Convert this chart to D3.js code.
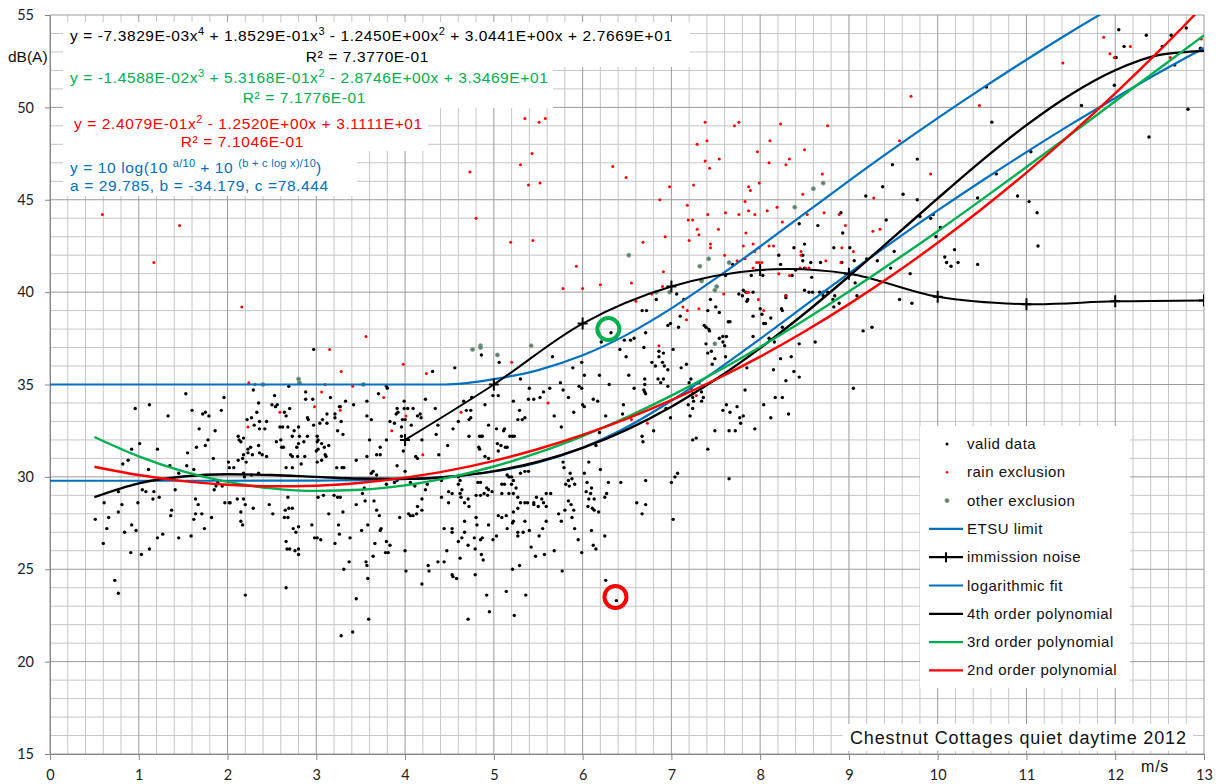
<!DOCTYPE html>
<html>
<head>
<meta charset="utf-8">
<script src="https://cdn.jsdelivr.net/npm/d3@7"></script>
<style>
  body { margin: 0; background: #fff; }
  svg { display: block; }
  .tick text { font-family: Lato, "Liberation Sans", sans-serif; font-size: 14.5px; fill: #222; }
  .lbl { font-family: "Liberation Sans", Arial, sans-serif; fill: #111; }
</style>
</head>
<body>
<div id="chart"></div>
<script>
// ---- data ----
var xTicks = [0, 1, 2, 3, 4, 5, 6, 7, 8, 9, 10, 11, 12, 13];
var yTicks = [15, 20, 25, 30, 35, 40, 45, 50, 55];

var validData = [
  [2.97,36.9],[1.53,34.5],[1.96,34.3],[0.96,33.7],[1.12,33.9],[1.33,33.3],[1.60,33.6],[1.72,33.4],[1.75,33.5],[1.79,33.3],
  [1.93,33.6],[1.68,32.6],[1.86,32.5],[1.78,32.0],[1.75,31.7],[1.65,31.6],[1.55,31.3],[1.01,31.8],[0.92,31.5],[0.88,30.9],
  [0.82,30.7],[1.21,31.5],[1.11,30.4],[1.35,30.6],[1.54,30.6],[1.62,30.4],[1.84,31.0],[1.45,30.2],[1.41,29.3],[1.17,29.2],
  [1.16,28.8],[1.23,28.9],[1.04,29.3],[1.08,29.2],[0.77,29.2],[0.61,28.6],[0.81,28.5],[0.99,28.6],[0.77,28.1],[0.66,27.8],
  [0.51,27.7],[0.64,27.2],[0.84,27.0],[0.92,27.4],[0.97,27.1],[0.91,25.9],[1.03,25.8],[1.12,26.1],[1.21,26.7],[1.27,26.9],
  [0.60,26.4],[0.73,24.4],[0.77,23.7],[1.37,28.2],[1.36,27.9],[1.45,26.7],[1.59,26.8],[1.64,28.8],[1.67,28.5],[1.64,28.0],
  [1.71,28.0],[1.62,27.7],[1.74,27.2],[1.82,27.8],[1.87,29.5],[1.89,29.7],[1.85,29.3],[1.94,29.5],[1.97,28.6],[2.02,28.6],
  [2.03,28.6],[2.01,30.8],[2.02,30.5],[2.07,30.5],[2.12,30.9],[2.17,31.0],[2.21,30.8],[2.18,31.2],[2.23,31.3],[2.12,32.2],
  [2.13,32.0],[2.15,31.9],[2.18,32.1],[2.22,33.1],[2.27,33.2],[2.23,31.5],[2.26,31.6],[2.35,31.7],[2.36,32.6],[2.30,32.8],
  [2.36,33.0],[2.33,33.5],[2.35,34.0],[2.29,34.7],[2.44,33.0],[2.42,32.6],[2.36,31.3],[2.39,31.2],[2.44,31.1],[2.28,31.2],
  [2.18,30.2],[2.19,30.0],[2.27,30.1],[2.11,28.8],[2.18,28.8],[2.20,28.5],[2.29,28.3],[2.15,28.1],[2.15,27.6],[2.17,27.4],
  [2.47,28.5],[2.51,28.0],[2.20,23.6],[2.35,30.2],[2.53,34.4],[2.50,33.9],[2.54,33.8],[2.56,33.9],[2.69,34.9],[2.70,33.7],
  [2.64,33.5],[2.66,33.3],[2.59,32.7],[2.62,32.7],[2.68,32.7],[2.55,31.9],[2.60,32.0],[2.61,31.6],[2.63,31.6],[2.75,32.5],
  [2.73,32.2],[2.71,31.2],[2.73,31.1],[2.66,30.5],[2.73,30.5],[2.83,30.7],[2.79,31.1],[2.78,31.6],[2.80,31.8],[2.81,32.2],
  [2.80,32.7],[2.86,31.9],[2.87,31.1],[2.90,32.2],[2.90,33.2],[2.91,33.1],[2.88,34.2],[2.88,34.6],[2.96,34.2],[2.97,32.8],
  [3.01,32.2],[3.02,32.0],[3.01,31.9],[3.06,31.8],[3.09,31.6],[3.00,31.4],[3.02,31.5],[3.11,31.1],[3.10,31.2],[3.06,30.9],
  [3.01,30.8],[3.04,32.9],[3.07,33.1],[3.12,33.4],[3.12,32.9],[3.16,34.3],[3.21,33.4],[3.21,33.2],[3.26,33.8],[3.27,33.8],
  [3.28,33.0],[3.24,32.5],[3.30,32.3],[3.33,34.1],[3.14,31.7],[3.23,30.5],[3.29,30.5],[3.31,30.5],[2.68,28.9],[2.69,28.3],
  [2.73,28.3],[2.65,28.2],[2.64,27.8],[2.68,27.8],[2.74,27.2],[2.80,27.3],[2.77,27.0],[2.66,26.5],[2.67,26.1],[2.70,26.1],
  [2.76,26.0],[2.80,26.1],[2.80,25.8],[2.66,24.0],[2.95,27.4],[2.98,26.7],[3.01,26.7],[3.05,26.6],[3.02,28.9],[3.08,29.0],
  [3.14,28.0],[3.20,29.0],[3.24,28.9],[3.27,28.9],[3.30,28.1],[3.26,26.9],[3.25,27.4],[3.21,26.4],[3.38,26.7],[3.37,25.4],
  [3.31,25.0],[3.28,21.4],
  [4.31,35.7],[4.56,35.9],[4.86,36.6],[5.06,36.2],[5.66,36.5],[5.99,36.2],[5.89,35.9],[6.02,35.5],[6.19,35.5],[6.32,37.8],
  [6.21,37.3],[3.79,34.9],[3.80,34.8],[3.70,34.5],[3.57,34.1],[3.42,33.9],[3.57,33.3],[3.62,33.1],[3.45,30.9],[3.99,34.1],
  [3.91,33.7],[3.99,33.7],[4.03,33.7],[4.09,33.7],[3.92,33.5],[3.97,33.1],[4.00,33.1],[3.96,32.7],[3.83,33.0],[3.88,32.9],
  [3.90,33.4],[4.14,33.3],[4.17,33.4],[4.18,33.2],[4.07,32.8],[4.23,34.2],[4.34,33.7],[4.37,32.8],[3.79,32.0],[3.96,32.2],
  [3.60,32.0],[3.72,31.6],[3.68,31.2],[3.72,31.2],[3.57,31.1],[3.91,30.6],[4.12,31.1],[4.14,31.0],[4.19,32.0],[3.98,31.4],
  [4.38,31.2],[4.35,32.3],[4.48,31.7],[4.54,32.6],[4.60,33.0],[4.72,32.2],[4.72,33.1],[4.74,33.2],[4.69,33.6],[4.74,33.6],
  [4.66,34.1],[4.84,32.2],[4.86,32.2],[4.87,32.2],[4.83,31.6],[4.84,31.5],[4.94,32.8],[4.90,31.1],[4.94,31.0],[5.03,32.6],
  [5.12,32.6],[5.11,32.5],[4.90,33.9],[4.75,34.3],[4.99,34.4],[5.05,34.4],[5.04,31.8],[5.08,31.7],[5.13,31.6],[5.05,31.4],
  [5.15,31.6],[5.18,32.2],[5.21,32.2],[5.23,32.2],[5.22,34.1],[5.30,35.3],[5.40,34.8],[5.39,34.2],[5.45,34.2],[5.29,33.6],
  [5.35,33.2],[5.27,33.1],[5.32,33.1],[5.52,34.3],[5.56,34.6],[5.63,34.8],[5.75,35.1],[5.78,34.7],[5.84,34.3],[5.96,34.9],
  [5.99,34.8],[5.90,33.5],[6.00,33.9],[6.02,33.8],[5.76,32.7],[5.68,33.3],[6.12,34.2],[6.17,34.1],[6.26,33.3],[6.30,35.0],
  [6.19,32.4],[6.15,31.7],[6.07,30.8],[6.20,30.4],[6.29,29.7],[6.27,29.1],[6.13,28.2],[5.88,29.9],[5.86,30.2],[5.84,29.8],
  [5.81,29.6],[5.91,29.6],[5.78,30.8],[5.79,30.5],[6.05,29.7],[6.10,29.4],[6.09,29.1],[6.07,28.8],[6.06,28.4],[6.11,28.3],
  [6.18,28.1],[6.10,27.1],[5.87,28.5],[5.90,28.2],[5.80,28.2],[5.88,27.8],[5.73,28.0],[5.76,27.6],[5.91,27.2],[5.95,26.6],
  [5.99,25.9],[6.12,26.3],[6.15,26.1],[6.25,26.8],[6.26,24.4],[6.38,23.3],[5.77,24.9],[5.68,26.0],[5.57,25.8],[5.47,25.7],
  [5.42,26.2],[5.40,27.1],[5.51,26.8],[5.55,27.2],[5.59,27.6],[5.50,28.4],[5.59,28.4],[5.56,28.6],[5.54,28.8],[5.64,29.1],
  [5.59,29.1],[5.48,28.9],[5.45,28.6],[5.45,28.5],[5.35,28.6],[5.30,28.6],[5.38,28.6],[5.27,28.9],[5.22,29.1],[5.17,29.1],
  [5.25,29.4],[5.20,29.6],[5.09,29.6],[5.12,29.6],[5.09,29.1],[5.15,30.1],[5.17,30.0],[5.20,30.0],[5.22,29.8],[5.30,30.2],
  [5.35,30.3],[5.39,30.3],[5.27,28.3],[5.22,28.1],[5.14,27.9],[5.09,27.8],[5.05,27.9],[5.21,27.5],[5.27,27.0],[5.33,27.0],
  [5.35,27.6],[5.27,26.8],[5.22,27.6],[5.15,27.2],[5.03,26.8],[4.99,26.6],[4.87,26.7],[4.85,26.6],[4.78,26.7],[4.80,27.8],
  [4.81,27.4],[4.94,27.4],[4.93,29.0],[4.98,29.2],[4.89,29.1],[4.85,29.0],[4.80,29.0],[4.94,29.3],[4.92,29.4],[4.85,29.7],
  [4.82,29.7],[4.71,28.8],[4.67,28.6],[4.72,28.4],[4.64,29.3],[4.63,28.9],[4.62,29.1],[4.53,29.1],[4.49,29.2],[4.60,29.6],
  [4.62,29.8],[4.60,30.0],[4.49,28.6],[4.41,28.9],[4.44,27.2],[4.53,27.2],[4.53,27.0],[4.60,26.5],[4.67,27.6],[4.67,27.0],
  [4.62,25.6],[4.64,26.7],[4.71,26.3],[4.79,26.1],[4.86,25.8],[4.88,25.5],[4.79,24.7],[4.53,24.7],[4.54,24.6],[4.58,24.5],
  [4.47,26.0],[4.44,25.4],[4.37,25.4],[4.26,25.2],[4.27,24.9],[4.19,24.2],[4.01,24.9],[4.00,26.0],[3.79,26.5],[3.78,25.9],
  [3.81,25.9],[3.83,26.3],[3.73,27.2],[3.72,27.1],[3.64,25.7],[3.57,25.2],[3.56,25.4],[3.58,24.5],[3.45,23.4],[3.59,22.3],
  [3.41,21.6],[3.51,27.1],[3.58,27.4],[3.66,26.4],[3.45,28.5],[3.55,28.7],[3.52,29.1],[3.65,28.7],[3.68,28.2],[3.71,27.9],
  [3.54,29.4],[3.62,30.2],[3.64,30.3],[3.68,30.1],[3.79,29.6],[3.88,29.7],[3.91,29.8],[3.94,27.8],[4.04,28.0],[4.06,27.9],
  [4.09,27.9],[4.13,28.0],[4.19,28.2],[4.14,28.4],[4.23,29.3],[4.25,29.6],[4.11,29.5],[4.06,29.7],[4.00,30.3],[4.41,29.8],
  [4.19,28.8],[4.71,22.3],[4.95,22.7],[4.92,23.6],[5.23,22.5],[5.14,23.8],[5.36,23.6],[5.21,25.0],[5.29,25.2],[6.02,30.2],
  [5.85,29.5],[6.04,29.2],[6.25,28.9],[6.13,28.8],[5.84,28.7],
  [8.44,43.7],[8.65,43.6],[8.91,44.3],[8.93,43.2],[8.83,42.4],[9.01,42.4],[8.50,42.6],[8.38,42.4],[8.21,42.0],[8.48,42.0],
  [8.48,41.7],[8.23,41.5],[8.57,41.6],[8.68,41.6],[8.92,41.6],[9.06,41.7],[9.20,41.8],[9.32,41.7],[7.69,41.5],[7.90,40.9],
  [8.03,40.9],[8.36,40.9],[8.58,40.8],[8.40,41.2],[8.50,41.3],[8.50,40.1],[8.55,40.0],[8.59,40.0],[8.67,40.0],[8.71,40.0],
  [8.71,39.8],[8.76,40.0],[8.84,39.8],[8.82,39.6],[8.83,39.2],[8.89,39.4],[9.07,40.5],[9.09,39.8],[9.16,37.9],[9.26,38.1],
  [8.62,37.3],[8.44,37.2],[8.29,39.8],[8.29,39.7],[8.24,39.1],[8.25,39.0],[8.12,38.6],[8.02,38.8],[8.06,38.3],[7.92,38.7],
  [8.00,39.1],[7.86,39.6],[7.85,39.5],[7.81,40.1],[7.84,40.0],[7.92,40.0],[7.76,39.9],[7.80,39.8],[7.61,40.9],[7.44,39.6],
  [7.50,39.2],[7.54,38.9],[7.41,39.0],[7.37,38.2],[7.39,38.1],[7.42,38.0],[7.43,37.9],[7.54,37.5],[7.58,37.6],[7.62,37.6],
  [7.64,38.4],[7.66,38.4],[7.39,37.2],[7.41,36.7],[7.45,36.8],[7.58,37.3],[7.60,37.1],[7.61,36.5],[7.46,36.1],[7.49,36.4],
  [7.92,37.6],[8.04,38.3],[8.10,37.5],[8.16,37.3],[8.25,38.1],[8.23,36.4],[8.15,35.8],[8.38,35.7],[8.44,35.4],[8.35,36.5],
  [7.85,35.9],[8.29,35.2],[8.17,34.3],[8.25,34.3],[8.04,33.9],[8.12,33.2],[8.32,33.4],[9.05,34.8],[7.83,34.7],[7.62,33.9],
  [7.58,33.6],[7.66,33.5],[7.74,33.8],[7.77,33.2],[7.81,33.3],[7.78,32.9],[7.49,32.5],[7.65,32.5],[7.72,32.5],[7.94,32.6],
  [7.41,31.5],[7.24,32.0],[7.28,32.1],[7.21,33.3],[7.25,34.1],[7.24,33.7],[7.19,33.9],[7.24,34.3],[7.24,34.5],[7.34,34.1],
  [7.36,34.3],[7.34,34.6],[7.31,35.1],[7.20,35.1],[7.22,35.3],[7.22,34.8],[6.99,33.2],[6.94,33.7],[7.11,35.9],[7.17,36.1],
  [7.02,36.9],[6.86,36.8],[6.91,36.7],[6.86,36.5],[6.90,36.2],[6.92,36.0],[6.96,35.8],[6.78,36.2],[6.82,36.0],[6.85,35.3],
  [6.91,35.3],[6.88,35.1],[6.96,34.9],[6.70,35.3],[6.70,35.0],[6.69,34.7],[6.70,34.6],[6.71,34.5],[6.58,34.8],[6.52,35.5],
  [6.69,37.0],[6.49,36.5],[6.42,36.9],[6.47,37.4],[6.54,37.4],[6.58,37.5],[6.71,37.8],[6.67,39.0],[6.72,39.0],[6.96,38.2],
  [6.99,38.3],[7.08,38.1],[7.14,39.6],[7.10,38.7],[6.83,39.6],[7.06,39.9],[6.45,33.4],[6.46,33.9],[6.67,32.2],[6.68,31.9],
  [6.80,32.5],[6.43,29.7],[6.71,29.8],[7.00,29.7],[7.04,30.0],[7.07,30.2],[6.61,28.6],[6.71,28.5],[6.67,28.0],[7.02,27.7],
  [7.65,29.9],
  [12.04,54.2],[12.10,53.3],[12.35,53.9],[12.63,53.9],[12.80,54.3],[12.53,53.3],[12.96,53.2],[12.01,52.7],[12.67,52.3],[11.99,51.2],
  [11.62,50.1],[12.82,49.9],[12.38,48.4],[10.55,51.1],[10.61,49.2],[11.05,47.6],[10.66,46.4],[9.49,46.9],[9.77,47.2],[9.61,45.3],
  [9.77,45.0],[9.42,43.9],[9.80,44.1],[9.92,44.0],[9.95,44.2],[10.03,43.5],[9.98,43.0],[9.51,42.2],[9.47,41.3],[9.69,41.0],
  [10.08,41.9],[10.10,41.6],[10.15,41.4],[10.19,42.3],[10.23,41.6],[10.45,41.5],[10.45,45.1],[10.90,45.2],[11.03,44.9],[11.12,44.3],
  [11.13,42.5],[9.57,39.6],[9.71,39.4],[9.38,45.7],[9.19,45.2]
];

var rainData = [
  [3.15,36.9],[3.28,35.7],[2.24,35.1],[2.31,35.0],[3.10,35.0],[3.06,34.6],[2.98,33.8],[3.27,33.6],[2.59,33.5],[2.23,32.7],
  [0.59,44.2],[1.46,43.6],[1.17,41.6],[2.16,39.2],
  [3.41,34.9],[3.56,37.6],[3.76,34.3],[3.98,36.1],[4.24,35.6],[4.01,33.3],[3.85,32.5],[4.20,31.2],[4.63,33.5],[5.20,36.2],[5.61,34.0],
  [7.18,44.7],[7.19,43.9],[7.24,43.9],[7.41,44.2],[7.61,44.3],[7.76,44.2],[7.83,44.9],[7.87,44.4],[7.94,44.2],[8.08,44.4],
  [8.19,44.6],[8.25,43.8],[8.53,44.2],[8.72,44.3],[8.89,44.2],[8.96,43.6],[6.93,43.0],[6.68,42.7],[7.20,42.8],[7.29,43.4],
  [7.31,43.1],[7.53,43.4],[7.84,43.2],[7.44,42.6],[7.44,42.4],[7.60,42.0],[7.81,42.5],[7.92,42.6],[7.94,42.2],[7.99,42.4],
  [8.10,42.5],[8.15,42.5],[7.74,41.7],[7.83,41.8],[7.96,41.6],[7.99,41.6],[8.02,41.6],[7.92,41.3],[8.46,42.2],[8.46,42.0],
  [8.45,41.3],[8.51,41.3],[8.55,41.3],[8.21,41.0],[8.33,40.9],[8.74,41.7],[8.91,41.6],[8.92,42.4],[9.05,42.2],[9.27,43.3],
  [9.35,43.4],[6.91,41.1],[6.55,40.5],[6.60,39.5],[6.90,40.3],[6.78,39.9],[7.13,39.2],[7.18,39.0],[7.17,38.5],[7.31,39.1],
  [7.59,39.9],[7.85,40.0],[7.87,40.0],[7.98,39.6],[8.04,39.0],[8.29,39.8],[6.86,37.1],[6.55,33.1],[6.73,32.9],[7.28,34.4],
  [5.35,49.4],[5.51,49.2],[5.58,49.4],[5.43,47.5],[5.30,46.9],[5.39,45.8],[5.52,45.9],[4.73,46.5],[4.80,44.0],[5.19,42.7],
  [5.44,42.8],[6.34,46.8],[5.93,41.4],[5.78,40.2],[6.00,40.2],[6.20,40.4],
  [6.49,46.2],[6.98,45.7],[6.87,45.0],[7.38,49.2],[7.40,48.2],[7.29,48.0],[7.38,47.1],[7.43,46.7],[7.54,47.2],[7.25,45.8],
  [7.71,49.0],[7.76,49.2],[7.87,45.7],[7.89,45.5],[7.99,45.9],[7.97,47.6],[8.11,48.2],[8.10,47.0],[8.23,49.1],[8.29,46.9],
  [8.33,47.2],[8.50,47.7],[8.76,49.0],[8.48,45.3],[8.70,46.4],[9.28,45.1],
  [11.87,53.8],[11.94,52.9],[11.99,52.7],[12.17,53.3],[12.62,52.7],[12.97,53.7],[11.41,52.4],[10.47,50.1],[9.70,50.6],[9.57,48.2],
  [9.92,46.4]
];

var otherData = [
  [2.40,35.0],[2.80,35.3],[2.81,35.1],[3.53,35.0],[4.76,36.9],[4.85,37.1],[4.85,37.0],[5.04,36.6],[5.42,37.1],
  [6.52,42.0],[6.83,40.0],[6.98,40.0],[7.32,41.4],[7.42,41.8],[7.65,41.6],[7.34,40.6],[7.51,40.3],[7.49,40.1],[7.49,37.2],
  [8.39,44.6],[8.60,45.6],[8.71,45.9]
];

// immission noise curve (points marked with +)
var immissionX = [4, 5, 6, 7, 8, 9, 10, 11, 12, 13];
var immissionY = [32.0, 35.0, 38.3, 40.3, 41.2, 41.0, 39.75, 39.35, 39.5, 39.55];

// trend lines sampled along the drawn curves
var polyX = [0.5, 1, 1.5, 2, 2.5, 3, 3.5, 4, 4.5, 5, 5.5, 6, 6.5, 7, 7.5, 8, 8.5, 9, 9.5, 10, 10.5, 11, 11.5, 12, 12.5, 13];
var poly4Y = [28.90, 29.65, 30.02, 30.14, 30.10, 30.00, 29.91, 29.89, 30.01, 30.31, 30.82, 31.57, 32.56, 33.80, 35.28, 36.97,
  38.84, 40.86, 42.96, 45.07, 47.13, 49.04, 50.70, 52.01, 52.84, 53.06];
var poly3Y = [32.16, 31.11, 30.30, 29.73, 29.38, 29.24, 29.30, 29.54, 29.97, 30.56, 31.31, 32.21, 33.24, 34.40, 35.66, 37.03,
  38.49, 40.03, 41.64, 43.30, 45.02, 46.77, 48.54, 50.33, 52.12, 53.90];
var poly2Y = [30.55, 30.10, 29.77, 29.57, 29.49, 29.52, 29.68, 29.96, 30.35, 30.87, 31.51, 32.27, 33.15, 34.15, 35.27, 36.51,
  37.87, 39.35, 40.95, 42.67, 44.51, 46.47, 48.56, 50.76, 53.08, 55.53];
var logX = [0, 1, 2, 3, 3.5, 4, 4.5, 5, 5.5, 6, 6.5, 7, 7.5, 8, 8.5, 9, 9.5, 10, 10.5, 11, 11.5, 12, 12.5, 13];
var logY = [29.79, 29.79, 29.79, 29.80, 29.82, 29.88, 30.01, 30.29, 30.78, 31.58, 32.70, 34.12, 35.74, 37.47, 39.25, 41.02,
  42.75, 44.42, 46.03, 47.58, 49.08, 50.51, 51.90, 53.22];
var etsuX = [0, 2, 4, 4.45, 5, 5.5, 6, 6.5, 7, 7.5, 8, 8.5, 9, 9.5, 10, 10.5, 11, 11.5, 12];
var etsuY = [35, 35, 35, 35, 35.29, 35.78, 36.58, 37.70, 39.12, 40.74, 42.47, 44.25, 46.02, 47.75, 49.42, 51.03, 52.58, 54.08, 55.51];

// two hand-drawn rings
var ringX = [6.29, 6.37];
var ringY = [38.0, 23.5];
var ringColor = ["#00b050", "#ff0000"];

var legendNames = ["valid data", "rain exclusion", "other exclusion", "ETSU limit", "immission noise",
  "logarithmic fit", "4th order polynomial", "3rd order polynomial", "2nd order polynomial"];

// ---- drawing ----
var width = 1226, height = 784;
var svg = d3.select("#chart").append("svg").attr("width", width).attr("height", height);

var x = d3.scaleLinear().domain([0, 13]).range([50, 1204]);
var y = d3.scaleLinear().domain([15, 55]).range([754, 15]);

var BLUE = "#0070c0", GREEN = "#00b050", RED = "#ff0000";

// grid
var grid = svg.append("g");
grid.selectAll(".vmin").data(d3.range(0, 65).map(function (i) { return i / 5; }).filter(function (v, i) { return i % 5 !== 0; }))
  .enter().append("line").attr("x1", x).attr("x2", x).attr("y1", y(15)).attr("y2", y(55))
  .attr("stroke", "#c6c6c6").attr("stroke-width", 1);
grid.selectAll(".hmin").data(d3.range(15, 56).filter(function (v) { return v % 5 !== 0; }))
  .enter().append("line").attr("y1", y).attr("y2", y).attr("x1", x(0)).attr("x2", x(13))
  .attr("stroke", "#c6c6c6").attr("stroke-width", 1);
grid.selectAll(".vmaj").data(xTicks).enter().append("line")
  .attr("x1", x).attr("x2", x).attr("y1", y(15)).attr("y2", y(55)).attr("stroke", "#9a9a9a").attr("stroke-width", 1);
grid.selectAll(".hmaj").data(yTicks).enter().append("line")
  .attr("y1", y).attr("y2", y).attr("x1", x(0)).attr("x2", x(13)).attr("stroke", "#9a9a9a").attr("stroke-width", 1);

// axes
var xAxis = svg.append("g").attr("transform", "translate(0," + y(15) + ")")
  .call(d3.axisBottom(x).tickValues(xTicks).tickSize(6).tickSizeOuter(0).tickPadding(10));
var yAxis = svg.append("g").attr("transform", "translate(" + x(0) + ",0)")
  .call(d3.axisLeft(y).tickValues(yTicks).tickSize(5).tickSizeOuter(0).tickPadding(11));
[xAxis, yAxis].forEach(function (a) {
  a.select(".domain").attr("stroke", "#868686");
  a.selectAll(".tick line").attr("stroke", "#868686");
});

svg.append("text").attr("class", "lbl").attr("x", 8).attr("y", 62).style("font-size", "15.5px").text("dB(A)");
svg.append("text").attr("class", "lbl").attr("x", 1141).attr("y", 772).style("font-size", "16px")
  .style("letter-spacing", "0.8px").text("m/s");

// plot clip
svg.append("clipPath").attr("id", "plot").append("rect")
  .attr("x", x(0)).attr("y", y(55)).attr("width", x(13) - x(0)).attr("height", y(15) - y(55));
var plot = svg.append("g").attr("clip-path", "url(#plot)");

// scatter
plot.append("g").selectAll("circle").data(validData).enter().append("circle")
  .attr("cx", function (d) { return x(d[0]); }).attr("cy", function (d) { return y(d[1]); })
  .attr("r", 1.7).attr("fill", "#000");
plot.append("g").selectAll("circle").data(rainData).enter().append("circle")
  .attr("cx", function (d) { return x(d[0]); }).attr("cy", function (d) { return y(d[1]); })
  .attr("r", 1.5).attr("fill", RED);
plot.append("g").selectAll("circle").data(otherData).enter().append("circle")
  .attr("cx", function (d) { return x(d[0]); }).attr("cy", function (d) { return y(d[1]); })
  .attr("r", 2).attr("fill", "#4a7f95").attr("stroke", "#8fa46a").attr("stroke-width", 1);

// lines
function drawLine(xs, ys, color, w) {
  var line = d3.line().curve(d3.curveMonotoneX)
    .x(function (d, i) { return x(xs[i]); }).y(function (d) { return y(d); });
  plot.append("path").datum(ys).attr("d", line).attr("fill", "none")
    .attr("stroke", color).attr("stroke-width", w);
}
drawLine(etsuX, etsuY, BLUE, 2.2);
drawLine(logX, logY, BLUE, 2.2);

// immission noise
var immLine = d3.line().curve(d3.curveCatmullRom)
  .x(function (d, i) { return x(immissionX[i]); }).y(function (d) { return y(d); });
plot.append("path").datum(immissionY).attr("d", immLine).attr("fill", "none")
  .attr("stroke", "#000").attr("stroke-width", 2);
plot.append("g").selectAll("path").data(immissionY).enter().append("path")
  .attr("transform", function (d, i) { return "translate(" + x(immissionX[i]) + "," + y(d) + ")"; })
  .attr("d", "M-5,0H5M0,-6V6").attr("stroke", "#000").attr("stroke-width", 2);

drawLine(polyX, poly4Y, "#000", 2.4);
drawLine(polyX, poly3Y, GREEN, 2.4);
drawLine(polyX, poly2Y, RED, 2.4);

// rings
plot.append("g").selectAll("circle").data(ringX).enter().append("circle")
  .attr("cx", function (d) { return x(d); }).attr("cy", function (d, i) { return y(ringY[i]); })
  .attr("r", 11).attr("fill", "none").attr("stroke", function (d, i) { return ringColor[i]; }).attr("stroke-width", 4);

// equation boxes
var eq = svg.append("g").attr("class", "lbl").style("font-size", "15.5px").style("letter-spacing", "0.6px");
eq.append("rect").attr("x", 63).attr("y", 22).attr("width", 627).attr("height", 45).attr("fill", "#fff");
eq.append("rect").attr("x", 63).attr("y", 67).attr("width", 490).attr("height", 41).attr("fill", "#fff");
eq.append("rect").attr("x", 63).attr("y", 108).attr("width", 365).attr("height", 43).attr("fill", "#fff");
eq.append("rect").attr("x", 63).attr("y", 151).attr("width", 294).attr("height", 45).attr("fill", "#fff");

// text with superscripts: strings are normal, {sup: ".."} are raised
function eqText(px, py, parts, color) {
  var t = eq.append("text").attr("x", px).attr("y", py).attr("fill", color);
  var raised = false;
  parts.forEach(function (p) {
    if (typeof p === "string") {
      t.append("tspan").attr("dy", raised ? 6 : 0).text(p);
      raised = false;
    } else {
      t.append("tspan").attr("dy", raised ? 0 : -6).style("font-size", "11px").style("letter-spacing", "0.3px").text(p.sup);
      raised = true;
    }
  });
  return t;
}
eqText(70, 41, ["y = -7.3829E-03x", {sup: "4"}, "  + 1.8529E-01x", {sup: "3"}, "  - 1.2450E+00x", {sup: "2"}, "  + 3.0441E+00x  + 2.7669E+01"], "#000");
eq.append("text").attr("x", 429).attr("y", 62).attr("text-anchor", "end").attr("fill", "#000").text("R² = 7.3770E-01");
eqText(70, 83, ["y = -1.4588E-02x", {sup: "3"}, "  + 5.3168E-01x", {sup: "2"}, "  - 2.8746E+00x  + 3.3469E+01"], GREEN);
eq.append("text").attr("x", 366).attr("y", 103).attr("text-anchor", "end").attr("fill", GREEN).text("R² = 7.1776E-01");
eqText(74, 129, ["y = 2.4079E-01x", {sup: "2"}, "  - 1.2520E+00x  + 3.1111E+01"], RED);
eq.append("text").attr("x", 304).attr("y", 147).attr("text-anchor", "end").attr("fill", RED).text("R² = 7.1046E-01");
eqText(70, 173, ["y = 10 log(10 ", {sup: "a/10"}, " + 10 ", {sup: "(b + c log x)/10"}, ")"], BLUE);
eq.append("text").attr("x", 70).attr("y", 191).attr("fill", BLUE).text("a = 29.785,  b = -34.179,  c =78.444");

// legend
var lg = svg.append("g").attr("class", "lbl").style("font-size", "15px").style("letter-spacing", "0.5px");
lg.append("rect").attr("x", 920).attr("y", 426).attr("width", 210).attr("height", 262).attr("fill", "#fff");
var rows = lg.selectAll(".row").data(legendNames).enter().append("g")
  .attr("transform", function (d, i) { return "translate(929," + (444 + i * 28.3) + ")"; });
rows.append("text").attr("x", 38).attr("y", 5).text(function (d) { return d; });
rows.each(function (d, i) {
  var g = d3.select(this);
  if (i === 0) g.append("circle").attr("cx", 18).attr("r", 1.5).attr("fill", "#000");
  else if (i === 1) g.append("circle").attr("cx", 18).attr("r", 1.3).attr("fill", RED);
  else if (i === 2) g.append("circle").attr("cx", 18).attr("r", 2).attr("fill", "#4a7f95").attr("stroke", "#8fa46a");
  else {
    var c = [BLUE, "#000", BLUE, "#000", GREEN, RED][i - 3];
    g.append("line").attr("x1", 0).attr("x2", 34).attr("stroke", c).attr("stroke-width", 2.2);
    if (i === 4) g.append("path").attr("d", "M17,-5V5").attr("stroke", "#000").attr("stroke-width", 2);
  }
});

// title box
svg.append("rect").attr("x", 843).attr("y", 724).attr("width", 350).attr("height", 27).attr("fill", "#fff");
svg.append("text").attr("class", "lbl").attr("x", 850).attr("y", 744).style("font-size", "18px")
  .style("letter-spacing", "0.85px").text("Chestnut Cottages quiet daytime 2012");
</script>
</body>
</html>
